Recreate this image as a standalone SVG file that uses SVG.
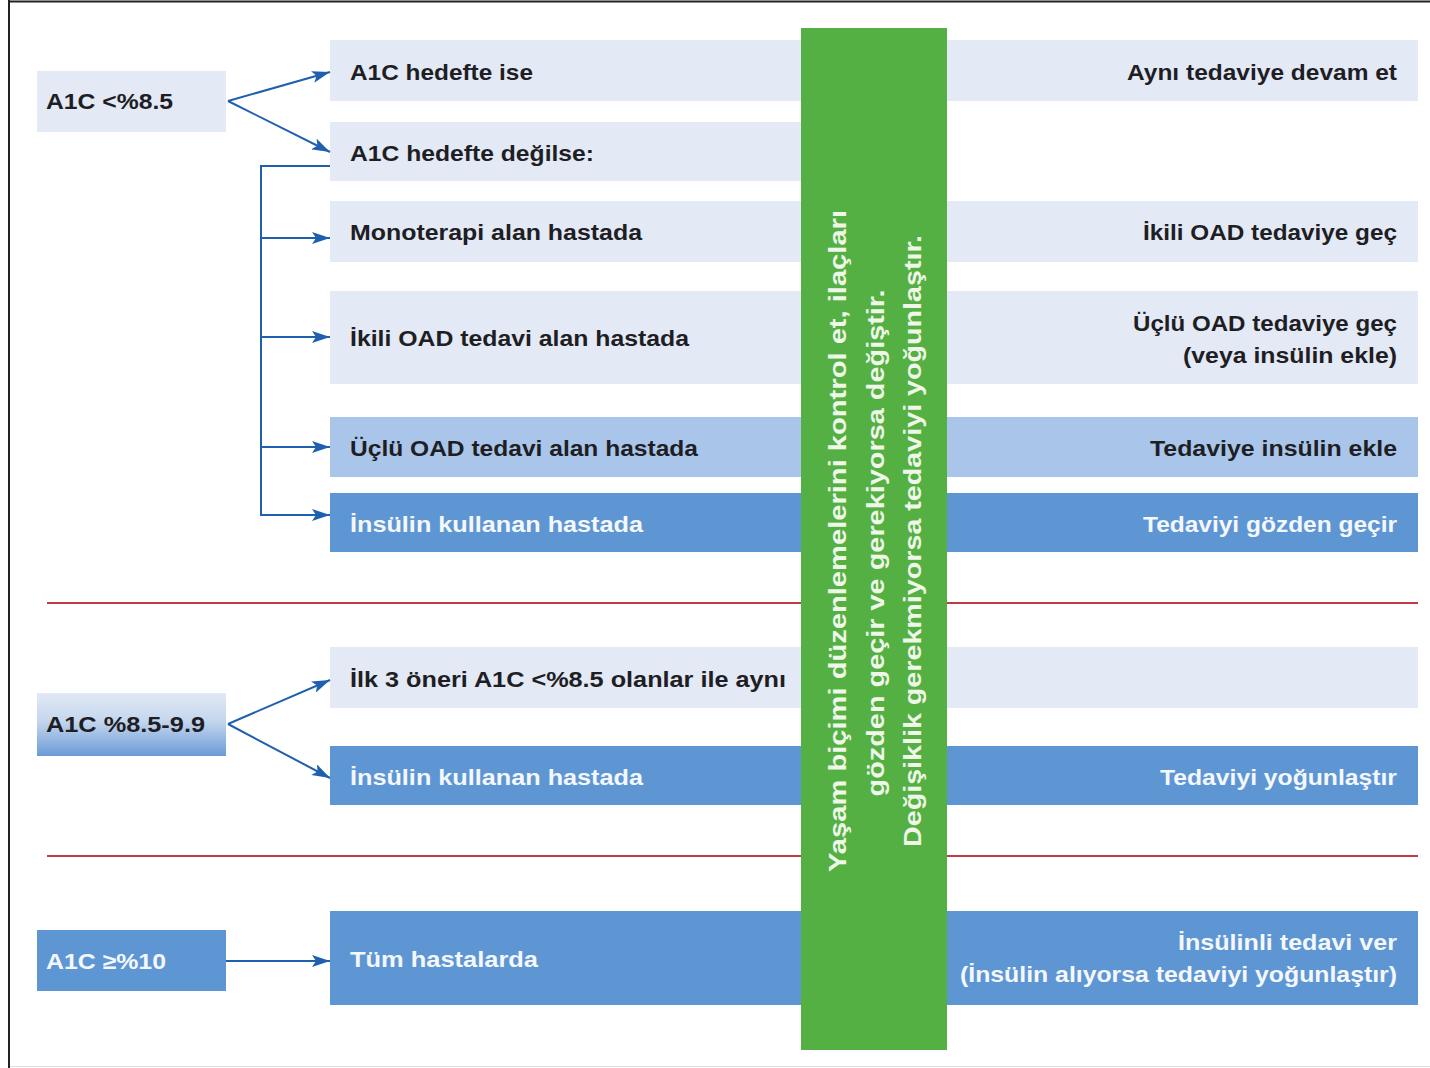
<svg xmlns="http://www.w3.org/2000/svg" width="1430" height="1068" viewBox="0 0 1430 1068">
<defs>
<linearGradient id="gmid" x1="0" y1="0" x2="0" y2="1">
<stop offset="0" stop-color="#e2e9f5"/>
<stop offset="0.45" stop-color="#c4d6ee"/>
<stop offset="1" stop-color="#6a9bd6"/>
</linearGradient>
<marker id="ah" viewBox="0 0 18 12" refX="18" refY="6" markerWidth="18" markerHeight="12" orient="auto" markerUnits="userSpaceOnUse">
<path d="M0,0 L18,6 L0,12 L4,6 Z" fill="#1f5fb0"/>
</marker>
</defs>
<style>
.light{fill:#e3e9f5}
.mid{fill:#a9c6ea}
.dark{fill:#5e96d4}
.t{font-family:"Liberation Sans","DejaVu Sans",sans-serif;font-size:22px;font-weight:bold;fill:#1e1e24}
.w{fill:#f4f8fd}
.r{text-anchor:end}
.c{fill:none;stroke:#1f5fb0;stroke-width:2}
.red{stroke:#c03a48;stroke-width:2}
.v{font-family:"Liberation Sans","DejaVu Sans",sans-serif;font-size:24px;font-weight:bold;fill:#eef7e8;text-anchor:middle}
</style>
<rect x="0" y="0" width="1430" height="1068" fill="#ffffff"/>
<line x1="9" y1="1.5" x2="1430" y2="1.5" stroke="#222" stroke-width="2"/>
<line x1="9" y1="0" x2="9" y2="1068" stroke="#222" stroke-width="2"/>
<line x1="10" y1="1066.5" x2="1430" y2="1066.5" stroke="#dddddd" stroke-width="1"/>

<line class="red" x1="47" y1="603" x2="1418" y2="603"/>
<line class="red" x1="47" y1="856" x2="1418" y2="856"/>

<g id="n-a1c-lt85"><rect class="light" x="37" y="71" width="189" height="61"/><text class="t" x="46" y="109" textLength="127" lengthAdjust="spacingAndGlyphs">A1C &lt;%8.5</text></g>
<g id="n-hedefte-ise"><rect class="light" x="330" y="40" width="471" height="61"/><text class="t" x="350" y="80" textLength="183" lengthAdjust="spacingAndGlyphs">A1C hedefte ise</text></g>
<g id="n-ayni"><rect class="light" x="947" y="40" width="471" height="61"/><text class="t r" x="1397" y="80" textLength="270" lengthAdjust="spacingAndGlyphs">Aynı tedaviye devam et</text></g>
<g id="n-degilse"><rect class="light" x="330" y="122" width="471" height="59"/><text class="t" x="350" y="161" textLength="244" lengthAdjust="spacingAndGlyphs">A1C hedefte değilse:</text></g>
<g id="n-mono"><rect class="light" x="330" y="201" width="471" height="61"/><text class="t" x="350" y="240" textLength="292" lengthAdjust="spacingAndGlyphs">Monoterapi alan hastada</text></g>
<g id="n-ikili-gec"><rect class="light" x="947" y="201" width="471" height="61"/><text class="t r" x="1397" y="240" textLength="254" lengthAdjust="spacingAndGlyphs">İkili OAD tedaviye geç</text></g>
<g id="n-ikili"><rect class="light" x="330" y="291" width="471" height="93"/><text class="t" x="350" y="346" textLength="339" lengthAdjust="spacingAndGlyphs">İkili OAD tedavi alan hastada</text></g>
<g id="n-uclu-gec"><rect class="light" x="947" y="291" width="471" height="93"/><text class="t r" x="1397" y="331" textLength="264" lengthAdjust="spacingAndGlyphs">Üçlü OAD tedaviye geç</text><text class="t r" x="1397" y="363" textLength="214" lengthAdjust="spacingAndGlyphs">(veya insülin ekle)</text></g>
<g id="n-uclu"><rect class="mid" x="330" y="417" width="471" height="60"/><text class="t" x="350" y="456" textLength="348" lengthAdjust="spacingAndGlyphs">Üçlü OAD tedavi alan hastada</text></g>
<g id="n-insulin-ekle"><rect class="mid" x="947" y="417" width="471" height="60"/><text class="t r" x="1397" y="456" textLength="247" lengthAdjust="spacingAndGlyphs">Tedaviye insülin ekle</text></g>
<g id="n-insulin1"><rect class="dark" x="330" y="493" width="471" height="59"/><text class="t w" x="350" y="532" textLength="293" lengthAdjust="spacingAndGlyphs">İnsülin kullanan hastada</text></g>
<g id="n-gozden"><rect class="dark" x="947" y="493" width="471" height="59"/><text class="t w r" x="1397" y="532" textLength="254" lengthAdjust="spacingAndGlyphs">Tedaviyi gözden geçir</text></g>

<g id="n-a1c-mid"><rect fill="url(#gmid)" x="37" y="693" width="189" height="63"/><text class="t" x="46" y="732" textLength="159" lengthAdjust="spacingAndGlyphs">A1C %8.5-9.9</text></g>
<g id="n-ilk3"><rect class="light" x="330" y="647" width="471" height="61"/><rect class="light" x="947" y="647" width="471" height="61"/><text class="t" x="350" y="687" textLength="436" lengthAdjust="spacingAndGlyphs">İlk 3 öneri A1C &lt;%8.5 olanlar ile aynı</text></g>
<g id="n-insulin2"><rect class="dark" x="330" y="746" width="471" height="59"/><text class="t w" x="350" y="785" textLength="293" lengthAdjust="spacingAndGlyphs">İnsülin kullanan hastada</text></g>
<g id="n-yogun"><rect class="dark" x="947" y="746" width="471" height="59"/><text class="t w r" x="1397" y="785" textLength="237" lengthAdjust="spacingAndGlyphs">Tedaviyi yoğunlaştır</text></g>

<g id="n-a1c-10"><rect class="dark" x="37" y="930" width="189" height="61"/><text class="t w" x="46" y="969" textLength="120" lengthAdjust="spacingAndGlyphs">A1C ≥%10</text></g>
<g id="n-tum"><rect class="dark" x="330" y="911" width="471" height="94"/><text class="t w" x="350" y="967" textLength="188" lengthAdjust="spacingAndGlyphs">Tüm hastalarda</text></g>
<g id="n-insulinli"><rect class="dark" x="947" y="911" width="471" height="94"/><text class="t w r" x="1397" y="950" textLength="219" lengthAdjust="spacingAndGlyphs">İnsülinli tedavi ver</text><text class="t w r" x="1397" y="982" textLength="437" lengthAdjust="spacingAndGlyphs">(İnsülin alıyorsa tedaviyi yoğunlaştır)</text></g>

<g id="n-green"><rect x="801" y="28" width="146" height="1022" fill="#55b043"/>
<text class="v" transform="translate(846,541) rotate(-90)" textLength="662" lengthAdjust="spacingAndGlyphs">Yaşam biçimi düzenlemelerini kontrol et, ilaçları</text>
<text class="v" transform="translate(884,543) rotate(-90)" textLength="507" lengthAdjust="spacingAndGlyphs">gözden geçir ve gerekiyorsa değiştir.</text>
<text class="v" transform="translate(921,541) rotate(-90)" textLength="612" lengthAdjust="spacingAndGlyphs">Değişiklik gerekmiyorsa tedaviyi yoğunlaştır.</text>
</g>

<g id="connectors">
<line class="c" x1="228" y1="101" x2="330" y2="72" marker-end="url(#ah)"/>
<line class="c" x1="228" y1="101" x2="330" y2="152" marker-end="url(#ah)"/>
<polyline class="c" points="330,166 261,166 261,516"/>
<line class="c" x1="261" y1="238" x2="330" y2="238" marker-end="url(#ah)"/>
<line class="c" x1="261" y1="337" x2="330" y2="337" marker-end="url(#ah)"/>
<line class="c" x1="261" y1="447" x2="330" y2="447" marker-end="url(#ah)"/>
<line class="c" x1="260" y1="515" x2="330" y2="515" marker-end="url(#ah)"/>
<line class="c" x1="228" y1="724" x2="330" y2="680" marker-end="url(#ah)"/>
<line class="c" x1="228" y1="724" x2="330" y2="778" marker-end="url(#ah)"/>
<line class="c" x1="226" y1="961" x2="330" y2="961" marker-end="url(#ah)"/>
</g>
</svg>
